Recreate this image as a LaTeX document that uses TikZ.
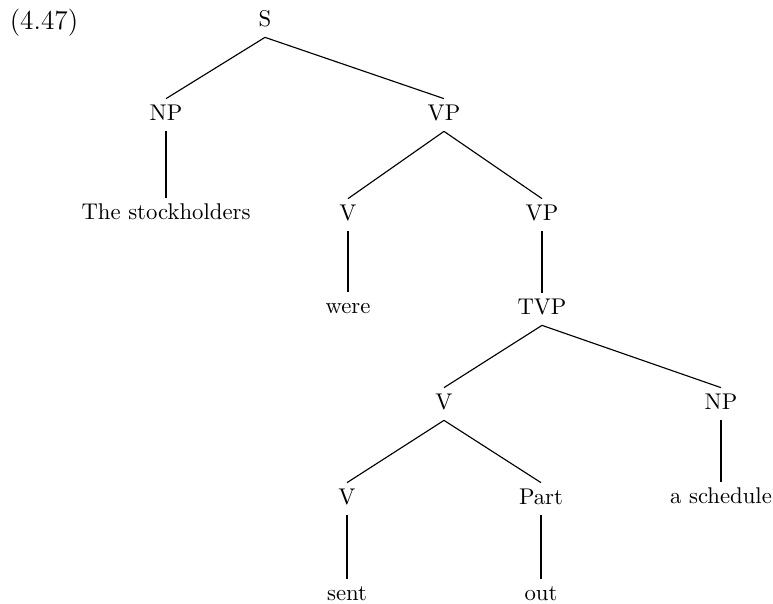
\documentclass[tikz,border=0pt]{standalone}
\begin{document}
\begin{tikzpicture}[x=0.44pt,y=-0.44pt,
  lbl/.style={inner sep=2.6pt,text height=6.9pt,text depth=1.9pt,font=\fontsize{10}{12}\selectfont},
  edge/.style={line width=0.5pt}]
\useasboundingbox (0,0) rectangle (773,603);
\node[font=\large,inner sep=0pt] (num) at (44,23) {(4.47)};
\node[lbl] (s) at (265,21) {S};
\node[lbl] (np1) at (166,115) {NP};
\node[lbl] (vp1) at (444,115) {VP};
\node[lbl] (stock) at (166,214) {The stockholders};
\node[lbl] (v1) at (348,215) {V};
\node[lbl] (vp2) at (542,215) {VP};
\node[lbl] (were) at (348,308) {were};
\node[lbl] (tvp) at (542,309) {TVP};
\node[lbl] (v2) at (444,404) {V};
\node[lbl] (np2) at (721,404) {NP};
\node[lbl] (v3) at (347,499) {V};
\node[lbl] (part) at (541,499) {Part};
\node[lbl] (sched) at (721,498) {a schedule};
\node[lbl] (sent) at (347,595) {sent};
\node[lbl] (out) at (541,595) {out};
\draw[edge] (s.south) -- (np1.north);
\draw[edge] (s.south) -- (vp1.north);
\draw[edge] (np1.south) -- (stock.north);
\draw[edge] (vp1.south) -- (v1.north);
\draw[edge] (vp1.south) -- (vp2.north);
\draw[edge] (v1.south) -- (were.north);
\draw[edge] (vp2.south) -- (tvp.north);
\draw[edge] (tvp.south) -- (v2.north);
\draw[edge] (tvp.south) -- (np2.north);
\draw[edge] (np2.south) -- (sched.north);
\draw[edge] (v2.south) -- (v3.north);
\draw[edge] (v2.south) -- (part.north);
\draw[edge] (v3.south) -- (sent.north);
\draw[edge] (part.south) -- (out.north);
\end{tikzpicture}
\end{document}
